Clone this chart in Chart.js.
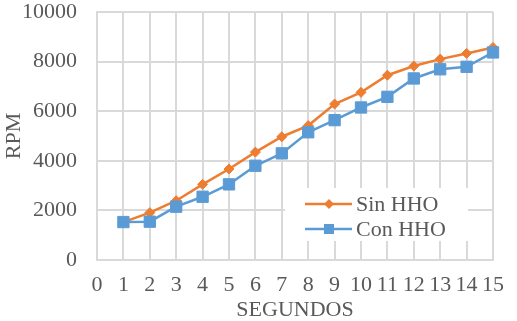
<!DOCTYPE html>
<html>
<head>
<meta charset="utf-8">
<script src="https://cdn.jsdelivr.net/npm/chart.js@4/dist/chart.umd.min.js"></script>
<style>
html,body{margin:0;padding:0;background:#fff;}
#wrap{position:relative;width:517px;height:321px;}
</style>
</head>
<body>
<div id="wrap"><canvas id="c" width="517" height="321"></canvas></div>
<script>
const seconds = [1,2,3,4,5,6,7,8,9,10,11,12,13,14,15];
const sinHHO = [1530,1910,2390,3050,3670,4350,4970,5420,6290,6760,7450,7820,8100,8330,8570];
const conHHO = [1530,1545,2150,2550,3050,3800,4300,5150,5640,6150,6580,7320,7690,7790,8370];
const seriesNames = ['Sin HHO','Con HHO'];
const xTitle = 'SEGUNDOS';
const yTitle = 'RPM';

const ORANGE = '#ED7D31';
const BLUE = '#5B9BD5';
const GRID = '#D9D9D9';
const TEXT = '#595959';
const FONT = "'Liberation Serif', 'Times New Roman', serif";

const legendPlugin = {
  id: 'boxLegend',
  afterDraw(chart) {
    const ctx = chart.ctx;
    ctx.save();
    ctx.fillStyle = '#fff';
    ctx.fillRect(285, 188, 183, 53);
    const rows = [
      {ds: chart.data.datasets[0], y: 204},
      {ds: chart.data.datasets[1], y: 229}
    ];
    rows.forEach(r => {
      ctx.strokeStyle = r.ds.borderColor;
      ctx.lineWidth = 2.5;
      ctx.beginPath();
      ctx.moveTo(305, r.y);
      ctx.lineTo(352, r.y);
      ctx.stroke();
      ctx.fillStyle = r.ds.backgroundColor;
      ctx.beginPath();
      if (r.ds.pointStyle === 'rect') {
        const h = 5;
        ctx.rect(329 - h, r.y - h, 2 * h, 2 * h);
      } else {
        const sz = 5;
        ctx.moveTo(329 - sz, r.y);
        ctx.lineTo(329, r.y - sz);
        ctx.lineTo(329 + sz, r.y);
        ctx.lineTo(329, r.y + sz);
        ctx.closePath();
      }
      ctx.fill();
      ctx.fillStyle = TEXT;
      ctx.font = "22px " + FONT;
      ctx.textBaseline = 'middle';
      ctx.textAlign = 'left';
      ctx.fillText(r.ds.label, 356, r.y + 1);
    });
    ctx.restore();
  }
};

new Chart(document.getElementById('c'), {
  type: 'line',
  data: {
    datasets: [
      {
        label: seriesNames[0],
        data: seconds.map((s, i) => ({x: s, y: sinHHO[i]})),
        borderColor: ORANGE,
        backgroundColor: ORANGE,
        borderWidth: 2.5,
        pointStyle: 'rectRot',
        pointRadius: 5,
        pointBorderWidth: 1,
        tension: 0,
        clip: false,
        order: 2
      },
      {
        label: seriesNames[1],
        data: seconds.map((s, i) => ({x: s, y: conHHO[i]})),
        borderColor: BLUE,
        backgroundColor: BLUE,
        borderWidth: 2.5,
        pointStyle: 'rect',
        pointRadius: 8,
        pointBorderWidth: 1,
        tension: 0,
        clip: false,
        order: 1
      }
    ]
  },
  options: {
    responsive: false,
    animation: false,
    layout: {padding: {top: 12, right: 24, bottom: 0, left: 0}},
    plugins: {
      legend: {display: false},
      tooltip: {enabled: false}
    },
    scales: {
      x: {
        type: 'linear',
        min: 0, max: 15,
        afterFit(s) { s.height = 61; s.paddingLeft = 0; s.paddingRight = 0; },
        ticks: {stepSize: 1, color: TEXT, font: {family: FONT, size: 22, lineHeight: 1.0}, padding: 14, maxRotation: 0, autoSkip: false},
        grid: {color: GRID, lineWidth: 2, drawTicks: false},
        border: {color: GRID, width: 2},
        title: {display: true, text: xTitle, color: TEXT, font: {family: FONT, size: 22, lineHeight: 1.0}, padding: {top: 0, bottom: 0}}
      },
      y: {
        min: 0, max: 10000,
        afterFit(s) { s.width = 97; s.paddingTop = 0; s.paddingBottom = 0; },
        ticks: {stepSize: 2000, color: TEXT, font: {family: FONT, size: 22, lineHeight: 1.0}, padding: 20,
          callback: v => String(v)},
        grid: {color: GRID, lineWidth: 2, drawTicks: false},
        border: {color: GRID, width: 2},
        title: {display: true, text: yTitle, color: TEXT, font: {family: FONT, size: 22, lineHeight: 1.2}, padding: {top: 1, bottom: 0}}
      }
    }
  },
  plugins: [legendPlugin]
});
</script>
</body>
</html>
